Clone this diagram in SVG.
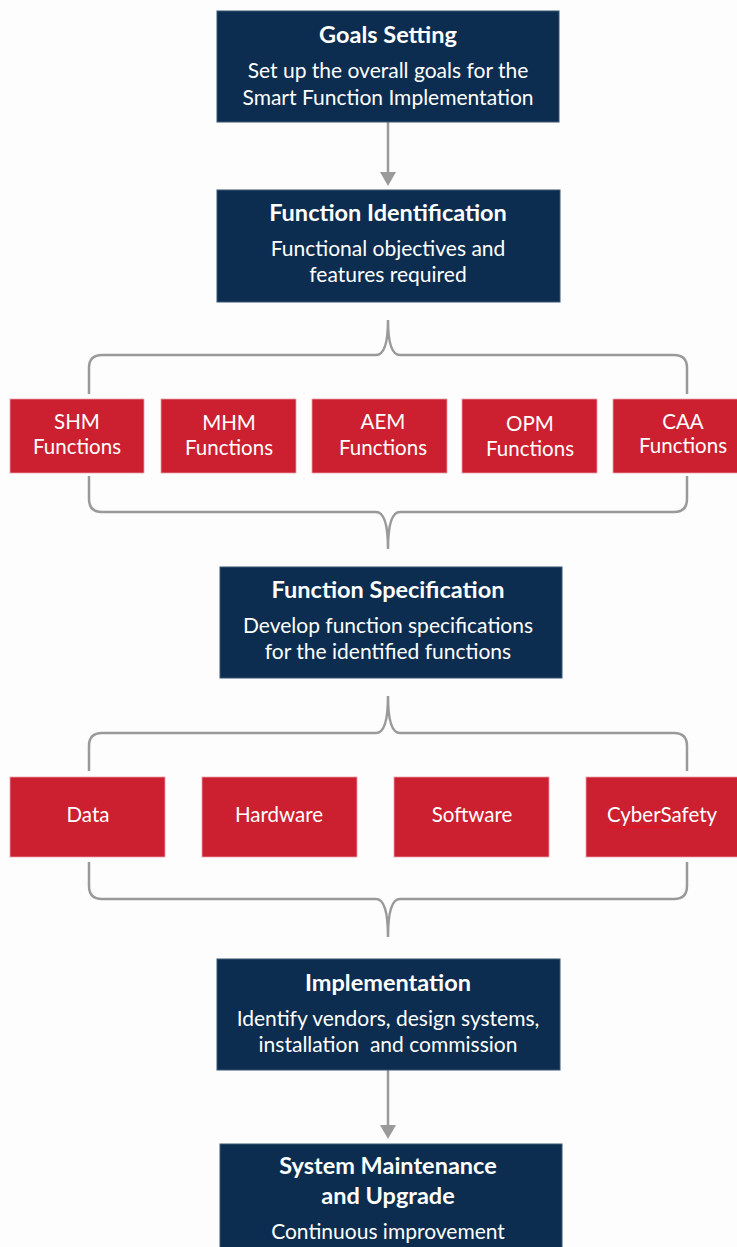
<svg xmlns="http://www.w3.org/2000/svg" width="737" height="1247" viewBox="0 0 737 1247">
<style>
.bg{fill:#fdfdfd}
.navy{fill:#0c2d4f;stroke:#3b5673;stroke-width:1}
.red{fill:#cc1f2f;stroke:#e8a0a6;stroke-width:0.8}
.t{font-family:Lato,"Open Sans",sans-serif;fill:#ffffff;text-anchor:middle}
.h{font-weight:700;font-size:23.5px}
.s{font-size:21px}
.r{font-size:20.5px}
.br{fill:none;stroke:#9a9a9a;stroke-width:2.5}
.ar{stroke:#9a9a9a;stroke-width:2.5}
.ah{fill:#9a9a9a}
</style>
<rect class="bg" x="0" y="0" width="737" height="1247"/>
<g id="connectors">
<line class="ar" x1="388" y1="122" x2="388" y2="173"/>
<polygon class="ah" points="380,172 396,172 388,186"/>
<path class="br" d="M89,394 V368 Q89,355 102,355 H376 Q388,355 388,320 Q388,355 400,355 H674 Q687,355 687,368 V394"/>
<path class="br" d="M89,476 V499 Q89,512 102,512 H376 Q388,512 388,549 Q388,512 400,512 H674 Q687,512 687,499 V476"/>
<path class="br" d="M89,771 V746 Q89,733 102,733 H376 Q388,733 388,696 Q388,733 400,733 H674 Q687,733 687,746 V771"/>
<path class="br" d="M89,862 V886 Q89,899 102,899 H376 Q388,899 388,937 Q388,899 400,899 H674 Q687,899 687,886 V862"/>
<line class="ar" x1="388" y1="1070" x2="388" y2="1126"/>
<polygon class="ah" points="380,1125 396,1125 388,1139"/>
</g>
<g id="goals">
<rect class="navy" x="217" y="11" width="342" height="111"/>
<text class="t h" x="388" y="43">Goals Setting</text>
<text class="t s" x="388" y="78">Set up the overall goals for the</text>
<text class="t s" x="388" y="105">Smart Function Implementation</text>
</g>
<g id="identification">
<rect class="navy" x="217" y="190" width="343" height="112"/>
<text class="t h" x="388" y="221">Function Identification</text>
<text class="t s" x="388" y="256">Functional objectives and</text>
<text class="t s" x="388" y="282">features required</text>
</g>
<g id="shm">
<rect class="red" x="10" y="399" width="134" height="74"/>
<text class="t r" x="77" y="429">SHM</text>
<text class="t r" x="77" y="454">Functions</text>
</g>
<g id="mhm">
<rect class="red" x="161" y="399" width="135" height="74"/>
<text class="t r" x="229" y="430">MHM</text>
<text class="t r" x="229" y="455">Functions</text>
</g>
<g id="aem">
<rect class="red" x="312" y="399" width="135" height="74"/>
<text class="t r" x="383" y="429">AEM</text>
<text class="t r" x="383" y="455">Functions</text>
</g>
<g id="opm">
<rect class="red" x="462" y="399" width="135" height="74"/>
<text class="t r" x="530" y="431">OPM</text>
<text class="t r" x="530" y="456">Functions</text>
</g>
<g id="caa">
<rect class="red" x="613" y="399" width="126" height="74"/>
<text class="t r" x="683" y="429">CAA</text>
<text class="t r" x="683" y="453">Functions</text>
</g>
<g id="specification">
<rect class="navy" x="220" y="567" width="342" height="111"/>
<text class="t h" x="388" y="598">Function Specification</text>
<text class="t s" x="388" y="633">Develop function specifications</text>
<text class="t s" x="388" y="659">for the identified functions</text>
</g>
<g id="data">
<rect class="red" x="10" y="777" width="155" height="80"/>
<text class="t r" x="88" y="822">Data</text>
</g>
<g id="hardware">
<rect class="red" x="202" y="777" width="155" height="80"/>
<text class="t r" x="279" y="822">Hardware</text>
</g>
<g id="software">
<rect class="red" x="394" y="777" width="155" height="80"/>
<text class="t r" x="472" y="822">Software</text>
</g>
<g id="cybersafety">
<rect class="red" x="586" y="777" width="153" height="80"/>
<text class="t r" x="662" y="822">CyberSafety</text>
<path d="M607,826 l2,2 l2,-2 l2,2 l2,-2 l2,2 l2,-2 l2,2 l2,-2 l2,2 l2,-2 l2,2 l2,-2 l2,2 l2,-2 l2,2 l2,-2 l2,2 l2,-2 l2,2 l2,-2 l2,2 l2,-2 l2,2 l2,-2 l2,2 l2,-2 l2,2 l2,-2 l2,2 l2,-2 l2,2 l2,-2 l2,2 l2,-2 l2,2 l2,-2 l2,2" fill="none" stroke="#e8101c" stroke-width="1"/>
</g>
<g id="implementation">
<rect class="navy" x="217" y="959" width="343" height="111"/>
<text class="t h" x="388" y="991">Implementation</text>
<text class="t s" x="388" y="1026">Identify vendors, design systems,</text>
<text class="t s" x="388" y="1052" xml:space="preserve">installation  and commission</text>
</g>
<g id="maintenance">
<rect class="navy" x="220" y="1144" width="342" height="110"/>
<text class="t h" x="388" y="1174">System Maintenance</text>
<text class="t h" x="388" y="1204">and Upgrade</text>
<text class="t s" x="388" y="1239">Continuous improvement</text>
</g>
</svg>
